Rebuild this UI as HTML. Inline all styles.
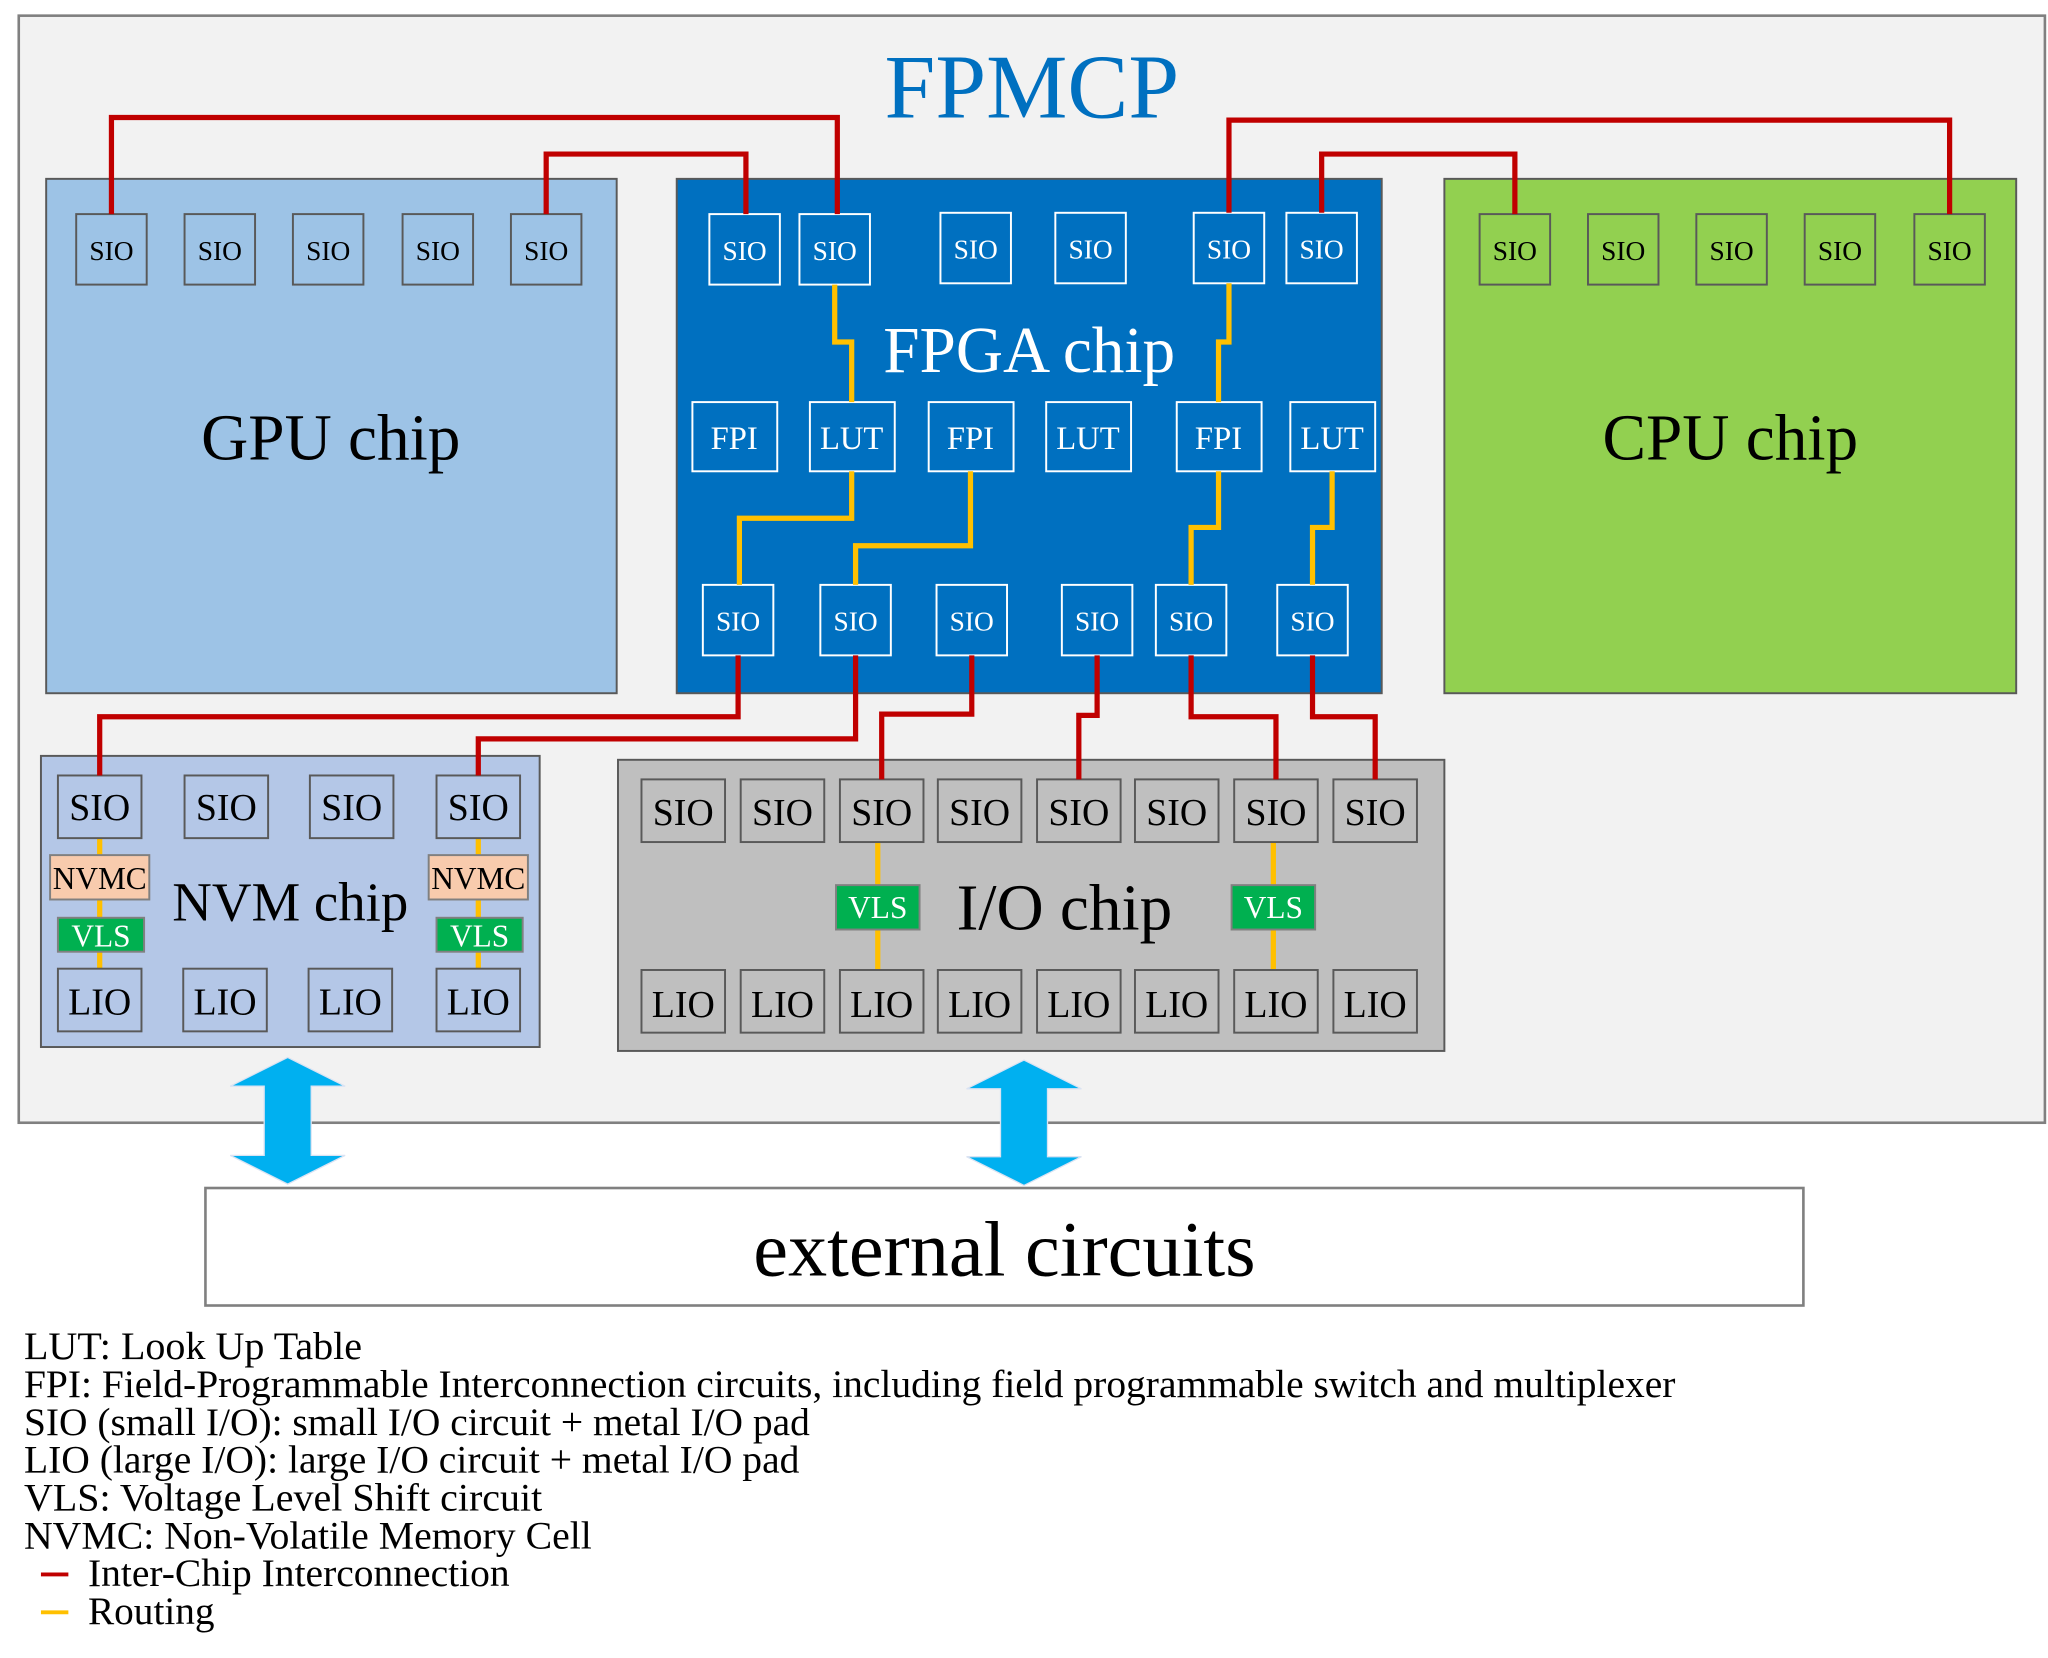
<!DOCTYPE html>
<html><head><meta charset="utf-8"><style>
html,body{margin:0;padding:0;background:#fff;}
svg{display:block;}
text{font-family:"Liberation Serif",serif;}
</style></head><body>
<svg width="2048" height="1658" viewBox="0 0 1568 1270" xmlns="http://www.w3.org/2000/svg">
<rect x="14" y="12" width="1552" height="848" fill="#f2f2f2" stroke="#808080" stroke-width="2"/>
<text x="790" y="90" font-size="70" fill="#0070c0" text-anchor="middle">FPMCP</text>

<!-- GPU -->
<rect x="35" y="137" width="437" height="394" fill="#9dc3e6" stroke="#595959" stroke-width="1.5"/>
<g stroke="#595959" stroke-width="1.5" fill="#9dc3e6">
<rect x="58" y="164" width="54" height="54"/><rect x="141" y="164" width="54" height="54"/><rect x="224" y="164" width="54" height="54"/><rect x="308" y="164" width="54" height="54"/><rect x="391" y="164" width="54" height="54"/>
</g>
<g font-size="21" text-anchor="middle" fill="#000">
<text x="85" y="199">SIO</text><text x="168" y="199">SIO</text><text x="251" y="199">SIO</text><text x="335" y="199">SIO</text><text x="418" y="199">SIO</text>
</g>
<text x="253" y="352" font-size="50" text-anchor="middle">GPU chip</text>

<!-- FPGA -->
<rect x="518" y="137" width="540" height="394" fill="#0070c0" stroke="#595959" stroke-width="1.5"/>
<g stroke="#fff" stroke-width="1.5" fill="none">
<rect x="543" y="164" width="54" height="54"/><rect x="612" y="164" width="54" height="54"/><rect x="720" y="163" width="54" height="54"/><rect x="808" y="163" width="54" height="54"/><rect x="914" y="163" width="54" height="54"/><rect x="985" y="163" width="54" height="54"/>
<rect x="530" y="308" width="65" height="53"/><rect x="620" y="308" width="65" height="53"/><rect x="711" y="308" width="65" height="53"/><rect x="801" y="308" width="65" height="53"/><rect x="901" y="308" width="65" height="53"/><rect x="988" y="308" width="65" height="53"/>
<rect x="538" y="448" width="54" height="54"/><rect x="628" y="448" width="54" height="54"/><rect x="717" y="448" width="54" height="54"/><rect x="813" y="448" width="54" height="54"/><rect x="885" y="448" width="54" height="54"/><rect x="978" y="448" width="54" height="54"/>
</g>
<g font-size="21" text-anchor="middle" fill="#fff">
<text x="570" y="199">SIO</text><text x="639" y="199">SIO</text><text x="747" y="198">SIO</text><text x="835" y="198">SIO</text><text x="941" y="198">SIO</text><text x="1012" y="198">SIO</text>
<text x="565" y="483">SIO</text><text x="655" y="483">SIO</text><text x="744" y="483">SIO</text><text x="840" y="483">SIO</text><text x="912" y="483">SIO</text><text x="1005" y="483">SIO</text>
</g>
<g font-size="25" text-anchor="middle" fill="#fff">
<text x="562" y="344">FPI</text><text x="652" y="344">LUT</text><text x="743" y="344">FPI</text><text x="833" y="344">LUT</text><text x="933" y="344">FPI</text><text x="1020" y="344">LUT</text>
</g>
<text x="788" y="285" font-size="50" text-anchor="middle" fill="#fff">FPGA chip</text>

<!-- CPU -->
<rect x="1106" y="137" width="438" height="394" fill="#92d050" stroke="#595959" stroke-width="1.5"/>
<g stroke="#595959" stroke-width="1.5" fill="#92d050">
<rect x="1133" y="164" width="54" height="54"/><rect x="1216" y="164" width="54" height="54"/><rect x="1299" y="164" width="54" height="54"/><rect x="1382" y="164" width="54" height="54"/><rect x="1466" y="164" width="54" height="54"/>
</g>
<g font-size="21" text-anchor="middle">
<text x="1160" y="199">SIO</text><text x="1243" y="199">SIO</text><text x="1326" y="199">SIO</text><text x="1409" y="199">SIO</text><text x="1493" y="199">SIO</text>
</g>
<text x="1325" y="352" font-size="50" text-anchor="middle">CPU chip</text>

<!-- NVM -->
<rect x="31" y="579" width="382" height="223" fill="#b4c7e7" stroke="#595959" stroke-width="1.5"/>
<g stroke="#ffc000" stroke-width="4">
<line x1="76" y1="642" x2="76" y2="742"/><line x1="366" y1="642" x2="366" y2="742"/>
</g>
<g stroke="#595959" stroke-width="1.5" fill="#b4c7e7">
<rect x="44" y="594" width="64" height="48"/><rect x="141" y="594" width="64" height="48"/><rect x="237" y="594" width="64" height="48"/><rect x="334" y="594" width="64" height="48"/>
<rect x="44" y="742" width="64" height="48"/><rect x="140" y="742" width="64" height="48"/><rect x="236" y="742" width="64" height="48"/><rect x="334" y="742" width="64" height="48"/>
</g>
<g stroke="#808080" stroke-width="1.5">
<rect x="38" y="655" width="76" height="34" fill="#f8cbad"/><rect x="328" y="655" width="76" height="34" fill="#f8cbad"/>
<rect x="44" y="703" width="66" height="26" fill="#00b050"/><rect x="334" y="703" width="66" height="26" fill="#00b050"/>
</g>
<g font-size="29" text-anchor="middle">
<text x="76" y="628">SIO</text><text x="173" y="628">SIO</text><text x="269" y="628">SIO</text><text x="366" y="628">SIO</text>
<text x="76" y="777">LIO</text><text x="172" y="777">LIO</text><text x="268" y="777">LIO</text><text x="366" y="777">LIO</text>
</g>
<g font-size="24" text-anchor="middle">
<text x="76" y="681">NVMC</text><text x="366" y="681">NVMC</text>
<text x="77" y="725" fill="#fff">VLS</text><text x="367" y="725" fill="#fff">VLS</text>
</g>
<text x="222" y="705" font-size="42" text-anchor="middle">NVM chip</text>

<!-- I/O -->
<rect x="473" y="582" width="633" height="223" fill="#bfbfbf" stroke="#595959" stroke-width="1.5"/>
<g stroke="#ffc000" stroke-width="4">
<line x1="672" y1="645" x2="672" y2="743"/><line x1="975" y1="645" x2="975" y2="743"/>
</g>
<g stroke="#595959" stroke-width="1.5" fill="#bfbfbf">
<rect x="491" y="597" width="64" height="48"/><rect x="567" y="597" width="64" height="48"/><rect x="643" y="597" width="64" height="48"/><rect x="718" y="597" width="64" height="48"/><rect x="794" y="597" width="64" height="48"/><rect x="869" y="597" width="64" height="48"/><rect x="945" y="597" width="64" height="48"/><rect x="1021" y="597" width="64" height="48"/>
<rect x="491" y="743" width="64" height="48"/><rect x="567" y="743" width="64" height="48"/><rect x="643" y="743" width="64" height="48"/><rect x="718" y="743" width="64" height="48"/><rect x="794" y="743" width="64" height="48"/><rect x="869" y="743" width="64" height="48"/><rect x="945" y="743" width="64" height="48"/><rect x="1021" y="743" width="64" height="48"/>
</g>
<g stroke="#808080" stroke-width="1.5" fill="#00b050">
<rect x="640" y="678" width="64" height="34"/><rect x="943" y="678" width="64" height="34"/>
</g>
<g font-size="29" text-anchor="middle">
<text x="523" y="632">SIO</text><text x="599" y="632">SIO</text><text x="675" y="632">SIO</text><text x="750" y="632">SIO</text><text x="826" y="632">SIO</text><text x="901" y="632">SIO</text><text x="977" y="632">SIO</text><text x="1053" y="632">SIO</text>
<text x="523" y="779">LIO</text><text x="599" y="779">LIO</text><text x="675" y="779">LIO</text><text x="750" y="779">LIO</text><text x="826" y="779">LIO</text><text x="901" y="779">LIO</text><text x="977" y="779">LIO</text><text x="1053" y="779">LIO</text>
</g>
<g font-size="24" text-anchor="middle" fill="#fff">
<text x="672" y="703">VLS</text><text x="975" y="703">VLS</text>
</g>
<text x="815" y="712" font-size="50" text-anchor="middle">I/O chip</text>

<!-- red interconnects -->
<g stroke="#c00000" stroke-width="4" fill="none">
<polyline points="85,164 85,90 641,90 641,164"/>
<polyline points="418,164 418,118 571,118 571,164"/>
<polyline points="941,163 941,92 1493,92 1493,164"/>
<polyline points="1012,163 1012,118 1160,118 1160,164"/>
<polyline points="565,502 565,549 76,549 76,594"/>
<polyline points="655,502 655,566 366,566 366,594"/>
<polyline points="744,502 744,547 675,547 675,597"/>
<polyline points="840,502 840,548 826,548 826,597"/>
<polyline points="912,502 912,549 977,549 977,597"/>
<polyline points="1005,502 1005,549 1053,549 1053,597"/>
</g>
<!-- yellow routing -->
<g stroke="#ffc000" stroke-width="4" fill="none">
<polyline points="639,218 639,262 652,262 652,308"/>
<polyline points="941,217 941,262 933,262 933,308"/>
<polyline points="652,361 652,397 566,397 566,448"/>
<polyline points="743,361 743,418 655,418 655,448"/>
<polyline points="933,361 933,404 912,404 912,448"/>
<polyline points="1020,361 1020,404 1005,404 1005,448"/>
</g>

<!-- arrows -->
<g fill="#00b0f0" stroke="#dae3f3" stroke-width="1">
<polygon points="220,810 264,832 238,832 238,885 264,885 220,907 176,885 202,885 202,832 176,832"/>
<polygon points="784,812 828,834 802,834 802,886 828,886 784,908 740,886 766,886 766,834 740,834"/>
</g>

<rect x="157" y="910" width="1224" height="90" fill="#fff" stroke="#808080" stroke-width="2"/>
<text x="769" y="977" font-size="60" text-anchor="middle">external circuits</text>

<g font-size="30">
<text x="18" y="1041" textLength="259" lengthAdjust="spacingAndGlyphs">LUT: Look Up Table</text>
<text x="18" y="1070" textLength="1265" lengthAdjust="spacingAndGlyphs">FPI: Field-Programmable Interconnection circuits, including field programmable switch and multiplexer</text>
<text x="18" y="1099" textLength="602" lengthAdjust="spacingAndGlyphs">SIO (small I/O): small I/O circuit + metal I/O pad</text>
<text x="18" y="1128" textLength="594" lengthAdjust="spacingAndGlyphs">LIO (large I/O): large I/O circuit + metal I/O pad</text>
<text x="18" y="1157" textLength="397" lengthAdjust="spacingAndGlyphs">VLS: Voltage Level Shift circuit</text>
<text x="18" y="1186" textLength="435" lengthAdjust="spacingAndGlyphs">NVMC: Non-Volatile Memory Cell</text>
<text x="67" y="1215" textLength="323" lengthAdjust="spacingAndGlyphs">Inter-Chip Interconnection</text>
<text x="67" y="1244" textLength="97" lengthAdjust="spacingAndGlyphs">Routing</text>
</g>
<line x1="31" y1="1206" x2="52" y2="1206" stroke="#c00000" stroke-width="3"/>
<line x1="31" y1="1235" x2="52" y2="1235" stroke="#ffc000" stroke-width="3"/>
</svg>
</body></html>
